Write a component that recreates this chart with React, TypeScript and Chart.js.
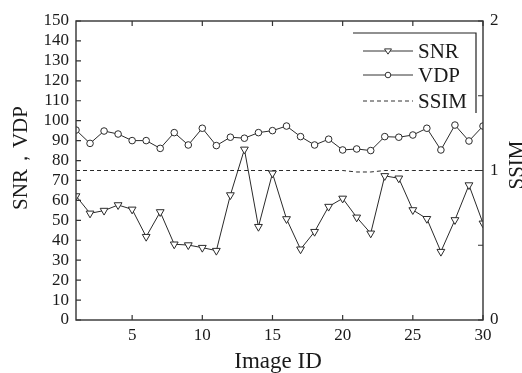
import React, { useEffect, useRef } from "react";
import { Chart, registerables } from "chart.js";

Chart.register(...registerables);

const imageIds = [1, 2, 3, 4, 5, 6, 7, 8, 9, 10, 11, 12, 13, 14, 15, 16, 17, 18, 19, 20, 21, 22, 23, 24, 25, 26, 27, 28, 29, 30];
const snrValues = [62.2, 53.5, 54.9, 57.7, 55.5, 41.8, 54.2, 38.0, 37.6, 36.3, 34.8, 62.7, 85.6, 46.8, 73.6, 50.7, 35.5, 44.3, 56.9, 61.0, 51.5, 43.5, 72.3, 71.1, 55.2, 50.8, 34.3, 50.2, 67.7, 48.5];
const vdpValues = [95.3, 88.6, 94.8, 93.3, 90.0, 90.0, 86.1, 94.0, 87.8, 96.2, 87.5, 91.7, 91.2, 94.0, 95.0, 97.3, 92.0, 87.8, 90.7, 85.3, 85.8, 85.0, 92.0, 91.7, 92.8, 96.2, 85.3, 97.8, 89.8, 97.3];
const ssimValues = [1, 1, 1, 1, 1, 1, 1, 1, 1, 1, 1, 1, 1, 1, 1, 1, 1, 1, 1, 1, 0.99, 0.99, 1, 1, 1, 1, 1, 1, 1, 1];

const xTickValues = [5, 10, 15, 20, 25, 30];
const leftTickStep = 10;
const rightTickValues = [0, 1, 2];
const rightMarkValues = [0, 0.5, 1, 1.5, 2];
const seriesNames = ["SNR", "VDP", "SSIM"];
const xTitle = "Image ID";
const leftTitle = "SNR，VDP";
const rightTitle = "SSIM";

const SERIF = "'Liberation Serif', 'Times New Roman', serif";
const INK = "#1a1a1a";

function drawTriangleDown(ctx: CanvasRenderingContext2D, cx: number, cy: number, r: number) {
  ctx.beginPath();
  ctx.moveTo(cx - r, cy - r * 0.6);
  ctx.lineTo(cx + r, cy - r * 0.6);
  ctx.lineTo(cx, cy + r * 0.9);
  ctx.closePath();
  ctx.fillStyle = "#fff";
  ctx.fill();
  ctx.stroke();
}

const decorPlugin = {
  id: "decor",
  afterDraw(chart: any) {
    const { ctx, chartArea } = chart;
    const { left, right, top, bottom } = chartArea;
    const xs = chart.scales.x;
    const ys = chart.scales.y;
    const y2 = chart.scales.y2;
    ctx.save();
    ctx.strokeStyle = "#333";
    ctx.lineWidth = 1.4;
    ctx.strokeRect(left, top, right - left, bottom - top);

    ctx.lineWidth = 1.2;
    ctx.beginPath();
    for (let v = ys.min; v <= ys.max; v += leftTickStep) {
      const py = ys.getPixelForValue(v);
      ctx.moveTo(left, py);
      ctx.lineTo(left + 5, py);
    }
    for (const v of xTickValues) {
      const px = xs.getPixelForValue(v);
      ctx.moveTo(px, bottom);
      ctx.lineTo(px, bottom - 5);
      ctx.moveTo(px, top);
      ctx.lineTo(px, top + 5);
    }
    for (const v of rightMarkValues) {
      const py = y2.getPixelForValue(v);
      ctx.moveTo(right, py);
      ctx.lineTo(right - 5, py);
    }
    ctx.stroke();

    // titles
    ctx.fillStyle = INK;
    ctx.textAlign = "center";
    ctx.textBaseline = "middle";
    ctx.font = `23px ${SERIF}`;
    ctx.fillText(xTitle, 278, 362);

    ctx.font = `21px ${SERIF}`;
    ctx.save();
    ctx.translate(21, 158);
    ctx.rotate(-Math.PI / 2);
    ctx.fillText(leftTitle, 0, 0);
    ctx.restore();

    ctx.save();
    ctx.translate(517, 165);
    ctx.rotate(-Math.PI / 2);
    ctx.fillText(rightTitle, 0, 0);
    ctx.restore();

    // legend
    ctx.strokeStyle = "#222";
    ctx.lineWidth = 1.2;
    ctx.beginPath();
    ctx.moveTo(353, 33);
    ctx.lineTo(476, 33);
    ctx.lineTo(476, 113);
    ctx.stroke();

    const rows = [51, 75, 101];
    ctx.lineWidth = 1;
    ctx.strokeStyle = "#333";
    ctx.beginPath();
    ctx.moveTo(363, rows[0]);
    ctx.lineTo(413, rows[0]);
    ctx.moveTo(363, rows[1]);
    ctx.lineTo(413, rows[1]);
    ctx.stroke();
    drawTriangleDown(ctx, 388, rows[0], 3.5);
    ctx.beginPath();
    ctx.arc(388, rows[1], 2.8, 0, Math.PI * 2);
    ctx.fillStyle = "#fff";
    ctx.fill();
    ctx.stroke();
    ctx.setLineDash([4, 3]);
    ctx.beginPath();
    ctx.moveTo(363, rows[2]);
    ctx.lineTo(413, rows[2]);
    ctx.stroke();
    ctx.setLineDash([]);

    ctx.fillStyle = INK;
    ctx.textAlign = "left";
    ctx.font = `21px ${SERIF}`;
    seriesNames.forEach((name, i) => ctx.fillText(name, 418, rows[i] + 1));
    ctx.restore();
  },
};

export default function App() {
  const canvasRef = useRef<HTMLCanvasElement | null>(null);

  useEffect(() => {
    const canvas = canvasRef.current;
    if (!canvas) return;
    const chart = new Chart(canvas, {
      type: "line",
      data: {
        datasets: [
          {
            label: seriesNames[0],
            data: imageIds.map((id, i) => ({ x: id, y: snrValues[i] })),
            yAxisID: "y",
            borderColor: "#2a2a2a",
            borderWidth: 1,
            pointStyle: "triangle",
            pointRotation: 180,
            pointRadius: 4.5,
            pointBackgroundColor: "#fff",
            pointBorderColor: "#2a2a2a",
            pointBorderWidth: 1,
            tension: 0,
            clip: 0,
          },
          {
            label: seriesNames[1],
            data: imageIds.map((id, i) => ({ x: id, y: vdpValues[i] })),
            yAxisID: "y",
            borderColor: "#2a2a2a",
            borderWidth: 1,
            pointStyle: "circle",
            pointRadius: 3.3,
            pointBackgroundColor: "#fff",
            pointBorderColor: "#2a2a2a",
            pointBorderWidth: 1,
            tension: 0,
            clip: 0,
          },
          {
            label: seriesNames[2],
            data: imageIds.map((id, i) => ({ x: id, y: ssimValues[i] })),
            yAxisID: "y2",
            borderColor: "#2a2a2a",
            borderWidth: 1,
            borderDash: [4, 3],
            pointRadius: 0,
            tension: 0,
            clip: 0,
          },
        ],
      },
      options: {
        responsive: false,
        animation: false,
        events: [],
        layout: { padding: { top: 21, left: 0, right: 0, bottom: 0 } },
        plugins: { legend: { display: false }, tooltip: { enabled: false } },
        scales: {
          x: {
            type: "linear",
            min: 1,
            max: 30,
            grid: { display: false, drawTicks: false },
            border: { display: false },
            afterBuildTicks: (s: any) => {
              s.ticks = xTickValues.map((v) => ({ value: v }));
            },
            afterFit: (s: any) => {
              s.height = 53;
            },
            ticks: {
              padding: 5,
              maxRotation: 0,
              autoSkip: false,
              color: INK,
              font: { family: SERIF, size: 17 },
            },
          },
          y: {
            type: "linear",
            position: "left",
            min: 0,
            max: 150,
            grid: { display: false, drawTicks: false },
            border: { display: false },
            afterFit: (s: any) => {
              s.width = 76;
            },
            ticks: {
              stepSize: leftTickStep,
              padding: 7,
              autoSkip: false,
              color: INK,
              font: { family: SERIF, size: 17 },
            },
          },
          y2: {
            type: "linear",
            position: "right",
            min: 0,
            max: 2,
            grid: { display: false, drawTicks: false },
            border: { display: false },
            afterBuildTicks: (s: any) => {
              s.ticks = rightTickValues.map((v) => ({ value: v }));
            },
            afterFit: (s: any) => {
              s.width = 39;
            },
            ticks: {
              padding: 7,
              autoSkip: false,
              color: INK,
              font: { family: SERIF, size: 17 },
              callback: (v: any) => String(v),
            },
          },
        },
      },
      plugins: [decorPlugin],
    });
    return () => chart.destroy();
  }, []);

  return (
    <div style={{ position: "absolute", left: 0, top: 0, width: 522, height: 373, background: "#fff" }}>
      <canvas ref={canvasRef} width={522} height={373} style={{ display: "block" }} />
    </div>
  );
}
